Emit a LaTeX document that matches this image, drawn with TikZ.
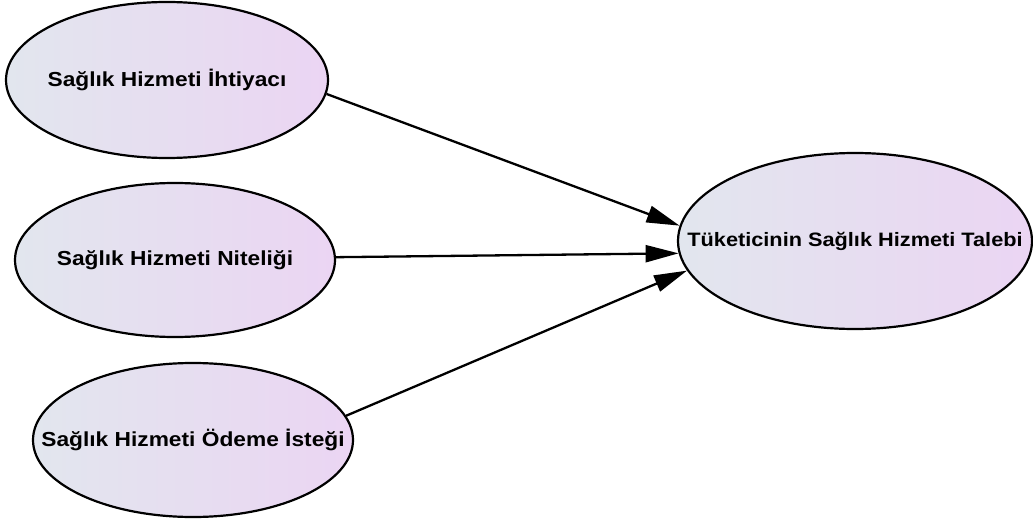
\documentclass[tikz,border=0pt]{standalone}
\usepackage{fontspec}
\newfontfamily\lblfont[FakeStretch=1.12]{Liberation Sans}
\usetikzlibrary{shapes.geometric,arrows.meta}
\definecolor{nodeleft}{HTML}{E2E6EE}
\definecolor{noderight}{HTML}{EBD5F3}
\begin{document}
\begin{tikzpicture}[x=1pt,y=-1pt,
  factor/.style={ellipse, draw=black, line width=2.2pt,
    left color=nodeleft, right color=noderight,
    inner ysep=0pt, inner xsep=-70pt,
    minimum width=320pt, minimum height=154pt,
    font=\lblfont\bfseries\fontsize{20.3}{24}\selectfont},
  link/.style={draw=black, line width=2.3pt,
    -{Triangle[length=33pt,width=17pt]}}]
  \useasboundingbox (0,0) rectangle (1033,524);

  % causes
  \node[factor, minimum width=322pt, minimum height=156pt] (ihtiyac) at (167,80)
    {Sağlık Hizmeti İhtiyacı};
  \node[factor] (nitelik) at (175,260) {Sağlık Hizmeti Niteliği};
  \node[factor] (odeme) at (193,440) {Sağlık Hizmeti Ödeme İsteği};

  % effect
  \node[factor, minimum width=354pt, minimum height=176pt,
    font=\lblfont\bfseries\fontsize{19.4}{23}\selectfont] (talep) at (855,241)
    {Tüketicinin Sağlık Hizmeti Talebi};

  % links
  \draw[link] (ihtiyac.-5) -- (talep.175);
  \draw[link] (nitelik.1) -- (talep.184);
  \draw[link] (odeme.9) -- (talep.190);
\end{tikzpicture}
\end{document}
